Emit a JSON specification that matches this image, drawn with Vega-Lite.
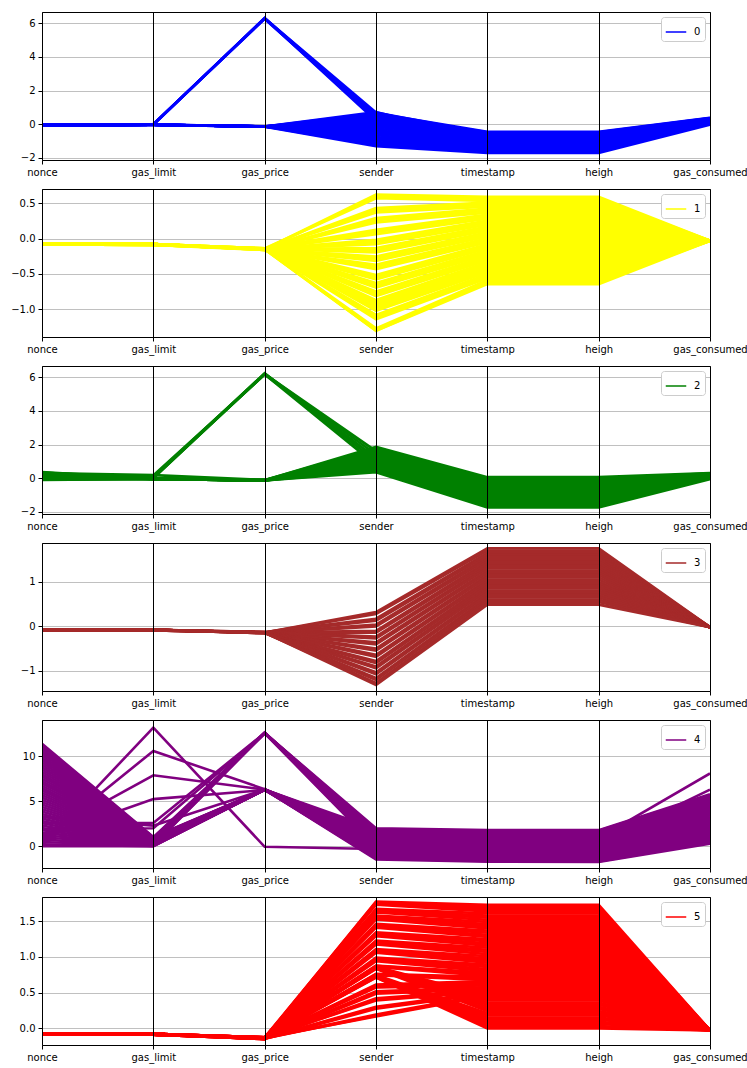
{
  "$schema": "https://vega.github.io/schema/vega-lite/v6.json",
  "padding": {"left": 10, "top": 11, "right": 5, "bottom": 5},
  "bounds": "flush",
  "spacing": 29,
  "config": {
    "view": {"stroke": "#000000", "strokeWidth": 1},
    "font": "DejaVu Sans",
    "axis": {"labelFont": "DejaVu Sans", "labelFontSize": 10, "labelColor": "#000000", "tickColor": "#000000", "domain": false, "title": null, "tickSize": 4, "labelPadding": 3},
    "legend": {"orient": "top-right", "title": null, "symbolType": "stroke", "symbolStrokeWidth": 1.5, "symbolSize": 420, "labelFont": "DejaVu Sans", "labelFontSize": 10, "labelColor": "#000000", "padding": 4, "strokeColor": "#cccccc", "fillColor": "#ffffff", "cornerRadius": 3, "offset": 5, "labelOffset": 7}
  },
  "data": {"values": [
    {"c":0,"i":1,"a1":-0.05,"a2":-0.03,"a3":-0.13,"a4":0.73,"a5":-0.9,"a6":-0.9,"a7":0.2},
    {"c":0,"i":2,"a1":-0.06,"a2":-0.03,"a3":-0.13,"a4":0.65,"a5":-0.45,"a6":-0.45,"a7":0.38},
    {"c":0,"i":3,"a1":-0.04,"a2":-0.03,"a3":-0.14,"a4":0.55,"a5":-0.48,"a6":-0.48,"a7":0.37},
    {"c":0,"i":4,"a1":-0.05,"a2":-0.02,"a3":-0.13,"a4":0.45,"a5":-0.5,"a6":-0.5,"a7":0.36},
    {"c":0,"i":5,"a1":-0.05,"a2":-0.03,"a3":-0.12,"a4":0.35,"a5":-0.55,"a6":-0.56,"a7":0.34},
    {"c":0,"i":6,"a1":-0.06,"a2":-0.03,"a3":-0.13,"a4":0.25,"a5":-0.62,"a6":-0.62,"a7":0.32},
    {"c":0,"i":7,"a1":-0.05,"a2":-0.04,"a3":-0.14,"a4":0.15,"a5":-0.68,"a6":-0.68,"a7":0.3},
    {"c":0,"i":8,"a1":-0.04,"a2":-0.03,"a3":-0.13,"a4":0.05,"a5":-0.75,"a6":-0.75,"a7":0.28},
    {"c":0,"i":9,"a1":-0.05,"a2":-0.03,"a3":-0.13,"a4":-0.05,"a5":-0.8,"a6":-0.81,"a7":0.26},
    {"c":0,"i":10,"a1":-0.06,"a2":-0.02,"a3":-0.12,"a4":-0.15,"a5":-0.86,"a6":-0.86,"a7":0.24},
    {"c":0,"i":11,"a1":-0.05,"a2":-0.03,"a3":-0.13,"a4":-0.25,"a5":-0.93,"a6":-0.93,"a7":0.22},
    {"c":0,"i":12,"a1":-0.05,"a2":-0.03,"a3":-0.14,"a4":-0.35,"a5":-1.0,"a6":-1.0,"a7":0.2},
    {"c":0,"i":13,"a1":-0.04,"a2":-0.03,"a3":-0.13,"a4":-0.45,"a5":-1.06,"a6":-1.06,"a7":0.18},
    {"c":0,"i":14,"a1":-0.05,"a2":-0.04,"a3":-0.13,"a4":-0.55,"a5":-1.12,"a6":-1.12,"a7":0.16},
    {"c":0,"i":15,"a1":-0.06,"a2":-0.03,"a3":-0.12,"a4":-0.65,"a5":-1.19,"a6":-1.19,"a7":0.14},
    {"c":0,"i":16,"a1":-0.05,"a2":-0.03,"a3":-0.13,"a4":-0.75,"a5":-1.25,"a6":-1.25,"a7":0.12},
    {"c":0,"i":17,"a1":-0.05,"a2":-0.02,"a3":-0.14,"a4":-0.85,"a5":-1.32,"a6":-1.32,"a7":0.1},
    {"c":0,"i":18,"a1":-0.04,"a2":-0.03,"a3":-0.13,"a4":-0.95,"a5":-1.38,"a6":-1.38,"a7":0.08},
    {"c":0,"i":19,"a1":-0.05,"a2":-0.03,"a3":-0.13,"a4":-1.05,"a5":-1.45,"a6":-1.45,"a7":0.06},
    {"c":0,"i":20,"a1":-0.06,"a2":-0.03,"a3":-0.12,"a4":-1.15,"a5":-1.52,"a6":-1.52,"a7":0.04},
    {"c":0,"i":21,"a1":-0.05,"a2":-0.04,"a3":-0.13,"a4":-1.22,"a5":-1.6,"a6":-1.6,"a7":0.02},
    {"c":0,"i":22,"a1":-0.05,"a2":-0.03,"a3":-0.14,"a4":-1.3,"a5":-1.7,"a6":-1.7,"a7":-0.02},
    {"c":0,"i":23,"a1":-0.05,"a2":-0.02,"a3":6.3,"a4":0.7,"a5":-0.55,"a6":-0.55,"a7":0.3},
    {"c":0,"i":24,"a1":-0.05,"a2":0.0,"a3":6.28,"a4":0.6,"a5":-0.7,"a6":-0.7,"a7":0.25},
    {"c":0,"i":25,"a1":-0.04,"a2":-0.01,"a3":6.32,"a4":0.5,"a5":-0.85,"a6":-0.85,"a7":0.2},
    {"c":0,"i":26,"a1":-0.06,"a2":0.01,"a3":6.26,"a4":0.4,"a5":-1.0,"a6":-1.0,"a7":0.15},
    {"c":0,"i":27,"a1":-0.05,"a2":0.0,"a3":6.3,"a4":0.3,"a5":-1.2,"a6":-1.2,"a7":0.1},
    {"c":0,"i":28,"a1":-0.05,"a2":-0.02,"a3":6.29,"a4":0.2,"a5":-1.4,"a6":-1.4,"a7":0.05},

    {"c":1,"i":1,"a1":-0.08,"a2":-0.08,"a3":-0.15,"a4":0.62,"a5":0.59,"a6":0.59,"a7":-0.03},
    {"c":1,"i":2,"a1":-0.08,"a2":-0.08,"a3":-0.15,"a4":0.595,"a5":0.562,"a6":0.562,"a7":-0.03},
    {"c":1,"i":3,"a1":-0.08,"a2":-0.08,"a3":-0.14,"a4":0.57,"a5":0.534,"a6":0.534,"a7":-0.03},
    {"c":1,"i":4,"a1":-0.08,"a2":-0.08,"a3":-0.15,"a4":0.43,"a5":0.506,"a6":0.506,"a7":-0.03},
    {"c":1,"i":5,"a1":-0.08,"a2":-0.09,"a3":-0.15,"a4":0.4,"a5":0.478,"a6":0.478,"a7":-0.03},
    {"c":1,"i":6,"a1":-0.08,"a2":-0.08,"a3":-0.15,"a4":0.37,"a5":0.45,"a6":0.45,"a7":-0.03},
    {"c":1,"i":7,"a1":-0.08,"a2":-0.08,"a3":-0.16,"a4":0.29,"a5":0.422,"a6":0.422,"a7":-0.03},
    {"c":1,"i":8,"a1":-0.08,"a2":-0.08,"a3":-0.15,"a4":0.26,"a5":0.394,"a6":0.394,"a7":-0.03},
    {"c":1,"i":9,"a1":-0.08,"a2":-0.08,"a3":-0.15,"a4":0.23,"a5":0.366,"a6":0.366,"a7":-0.03},
    {"c":1,"i":10,"a1":-0.08,"a2":-0.09,"a3":-0.14,"a4":0.124,"a5":0.338,"a6":0.338,"a7":-0.03},
    {"c":1,"i":11,"a1":-0.08,"a2":-0.08,"a3":-0.15,"a4":0.094,"a5":0.31,"a6":0.31,"a7":-0.03},
    {"c":1,"i":12,"a1":-0.08,"a2":-0.08,"a3":-0.15,"a4":0.064,"a5":0.282,"a6":0.282,"a7":-0.03},
    {"c":1,"i":13,"a1":-0.08,"a2":-0.08,"a3":-0.15,"a4":-0.018,"a5":0.254,"a6":0.254,"a7":-0.03},
    {"c":1,"i":14,"a1":-0.08,"a2":-0.08,"a3":-0.16,"a4":-0.048,"a5":0.226,"a6":0.226,"a7":-0.03},
    {"c":1,"i":15,"a1":-0.08,"a2":-0.08,"a3":-0.15,"a4":-0.078,"a5":0.198,"a6":0.198,"a7":-0.03},
    {"c":1,"i":16,"a1":-0.08,"a2":-0.09,"a3":-0.15,"a4":-0.136,"a5":0.17,"a6":0.17,"a7":-0.03},
    {"c":1,"i":17,"a1":-0.08,"a2":-0.08,"a3":-0.15,"a4":-0.166,"a5":0.142,"a6":0.142,"a7":-0.03},
    {"c":1,"i":18,"a1":-0.08,"a2":-0.08,"a3":-0.14,"a4":-0.196,"a5":0.114,"a6":0.114,"a7":-0.03},
    {"c":1,"i":19,"a1":-0.08,"a2":-0.08,"a3":-0.15,"a4":-0.254,"a5":0.086,"a6":0.086,"a7":-0.03},
    {"c":1,"i":20,"a1":-0.08,"a2":-0.08,"a3":-0.15,"a4":-0.284,"a5":0.058,"a6":0.058,"a7":-0.03},
    {"c":1,"i":21,"a1":-0.08,"a2":-0.08,"a3":-0.15,"a4":-0.314,"a5":0.03,"a6":0.03,"a7":-0.03},
    {"c":1,"i":22,"a1":-0.08,"a2":-0.09,"a3":-0.16,"a4":-0.37,"a5":0.002,"a6":0.002,"a7":-0.03},
    {"c":1,"i":23,"a1":-0.08,"a2":-0.08,"a3":-0.15,"a4":-0.4,"a5":-0.026,"a6":-0.026,"a7":-0.03},
    {"c":1,"i":24,"a1":-0.08,"a2":-0.08,"a3":-0.15,"a4":-0.43,"a5":-0.054,"a6":-0.054,"a7":-0.03},
    {"c":1,"i":25,"a1":-0.08,"a2":-0.08,"a3":-0.14,"a4":-0.515,"a5":-0.082,"a6":-0.082,"a7":-0.03},
    {"c":1,"i":26,"a1":-0.08,"a2":-0.08,"a3":-0.15,"a4":-0.545,"a5":-0.11,"a6":-0.11,"a7":-0.03},
    {"c":1,"i":27,"a1":-0.08,"a2":-0.08,"a3":-0.15,"a4":-0.575,"a5":-0.138,"a6":-0.138,"a7":-0.03},
    {"c":1,"i":28,"a1":-0.08,"a2":-0.09,"a3":-0.15,"a4":-0.63,"a5":-0.166,"a6":-0.166,"a7":-0.03},
    {"c":1,"i":29,"a1":-0.08,"a2":-0.08,"a3":-0.16,"a4":-0.66,"a5":-0.194,"a6":-0.194,"a7":-0.03},
    {"c":1,"i":30,"a1":-0.08,"a2":-0.08,"a3":-0.15,"a4":-0.69,"a5":-0.222,"a6":-0.222,"a7":-0.03},
    {"c":1,"i":31,"a1":-0.08,"a2":-0.08,"a3":-0.15,"a4":-0.75,"a5":-0.25,"a6":-0.25,"a7":-0.03},
    {"c":1,"i":32,"a1":-0.08,"a2":-0.08,"a3":-0.14,"a4":-0.78,"a5":-0.278,"a6":-0.278,"a7":-0.03},
    {"c":1,"i":33,"a1":-0.08,"a2":-0.08,"a3":-0.15,"a4":-0.81,"a5":-0.306,"a6":-0.306,"a7":-0.03},
    {"c":1,"i":34,"a1":-0.08,"a2":-0.09,"a3":-0.15,"a4":-0.87,"a5":-0.334,"a6":-0.334,"a7":-0.03},
    {"c":1,"i":35,"a1":-0.08,"a2":-0.08,"a3":-0.15,"a4":-0.9,"a5":-0.362,"a6":-0.362,"a7":-0.03},
    {"c":1,"i":36,"a1":-0.08,"a2":-0.08,"a3":-0.16,"a4":-0.93,"a5":-0.39,"a6":-0.39,"a7":-0.03},
    {"c":1,"i":37,"a1":-0.08,"a2":-0.08,"a3":-0.15,"a4":-0.96,"a5":-0.418,"a6":-0.418,"a7":-0.03},
    {"c":1,"i":38,"a1":-0.08,"a2":-0.08,"a3":-0.15,"a4":-0.99,"a5":-0.446,"a6":-0.446,"a7":-0.03},
    {"c":1,"i":39,"a1":-0.08,"a2":-0.08,"a3":-0.14,"a4":-1.02,"a5":-0.474,"a6":-0.474,"a7":-0.03},
    {"c":1,"i":40,"a1":-0.08,"a2":-0.09,"a3":-0.15,"a4":-1.08,"a5":-0.502,"a6":-0.502,"a7":-0.03},
    {"c":1,"i":41,"a1":-0.08,"a2":-0.08,"a3":-0.15,"a4":-1.11,"a5":-0.53,"a6":-0.53,"a7":-0.03},
    {"c":1,"i":42,"a1":-0.08,"a2":-0.08,"a3":-0.15,"a4":-1.14,"a5":-0.558,"a6":-0.558,"a7":-0.03},
    {"c":1,"i":43,"a1":-0.08,"a2":-0.08,"a3":-0.15,"a4":-1.27,"a5":-0.586,"a6":-0.586,"a7":-0.03},
    {"c":1,"i":44,"a1":-0.08,"a2":-0.08,"a3":-0.15,"a4":-1.3,"a5":-0.614,"a6":-0.614,"a7":-0.03},
    {"c":1,"i":45,"a1":-0.08,"a2":-0.08,"a3":-0.15,"a4":-1.3,"a5":-0.642,"a6":-0.642,"a7":-0.03},

    {"c":2,"i":1,"a1":0.35,"a2":-0.05,"a3":-0.13,"a4":1.85,"a5":0.05,"a6":0.05,"a7":0.3},
    {"c":2,"i":2,"a1":0.3,"a2":0.18,"a3":-0.12,"a4":1.75,"a5":-0.07,"a6":-0.07,"a7":0.28},
    {"c":2,"i":3,"a1":0.25,"a2":-0.05,"a3":-0.14,"a4":1.65,"a5":-0.19,"a6":-0.19,"a7":0.26},
    {"c":2,"i":4,"a1":0.2,"a2":-0.04,"a3":-0.13,"a4":1.55,"a5":-0.31,"a6":-0.31,"a7":0.24},
    {"c":2,"i":5,"a1":0.15,"a2":-0.05,"a3":-0.14,"a4":1.45,"a5":-0.43,"a6":-0.43,"a7":0.22},
    {"c":2,"i":6,"a1":0.1,"a2":-0.05,"a3":-0.13,"a4":1.35,"a5":-0.55,"a6":-0.55,"a7":0.2},
    {"c":2,"i":7,"a1":0.05,"a2":-0.05,"a3":-0.14,"a4":1.25,"a5":-0.67,"a6":-0.67,"a7":0.18},
    {"c":2,"i":8,"a1":0.0,"a2":-0.05,"a3":-0.13,"a4":1.15,"a5":-0.79,"a6":-0.79,"a7":0.16},
    {"c":2,"i":9,"a1":-0.05,"a2":-0.05,"a3":-0.14,"a4":1.05,"a5":-0.91,"a6":-0.91,"a7":0.14},
    {"c":2,"i":10,"a1":-0.08,"a2":-0.05,"a3":-0.13,"a4":0.95,"a5":-1.03,"a6":-1.03,"a7":0.12},
    {"c":2,"i":11,"a1":0.32,"a2":-0.05,"a3":-0.14,"a4":0.85,"a5":-1.15,"a6":-1.15,"a7":0.1},
    {"c":2,"i":12,"a1":0.12,"a2":-0.05,"a3":-0.13,"a4":0.75,"a5":-1.27,"a6":-1.27,"a7":0.08},
    {"c":2,"i":13,"a1":0.02,"a2":-0.05,"a3":-0.14,"a4":0.65,"a5":-1.39,"a6":-1.39,"a7":0.06},
    {"c":2,"i":14,"a1":-0.1,"a2":-0.05,"a3":-0.13,"a4":0.55,"a5":-1.51,"a6":-1.51,"a7":0.04},
    {"c":2,"i":15,"a1":0.22,"a2":-0.05,"a3":-0.14,"a4":0.45,"a5":-1.63,"a6":-1.63,"a7":0.02},
    {"c":2,"i":16,"a1":-0.06,"a2":-0.05,"a3":-0.13,"a4":0.35,"a5":-1.75,"a6":-1.75,"a7":-0.05},
    {"c":2,"i":17,"a1":0.1,"a2":0.02,"a3":6.2,"a4":1.6,"a5":-0.3,"a6":-0.3,"a7":0.25},
    {"c":2,"i":18,"a1":0.05,"a2":0.1,"a3":6.22,"a4":1.4,"a5":-0.6,"a6":-0.6,"a7":0.2},
    {"c":2,"i":19,"a1":0.0,"a2":0.15,"a3":6.18,"a4":1.2,"a5":-0.9,"a6":-0.9,"a7":0.15},
    {"c":2,"i":20,"a1":0.08,"a2":0.0,"a3":6.24,"a4":1.0,"a5":-1.2,"a6":-1.2,"a7":0.1},
    {"c":2,"i":21,"a1":0.15,"a2":0.05,"a3":6.2,"a4":0.8,"a5":-1.5,"a6":-1.5,"a7":0.05},

    {"c":3,"i":1,"a1":-0.08,"a2":-0.08,"a3":-0.14,"a4":0.32,"a5":1.75,"a6":1.75,"a7":-0.02},
    {"c":3,"i":2,"a1":-0.08,"a2":-0.08,"a3":-0.14,"a4":0.28,"a5":1.7,"a6":1.7,"a7":-0.02},
    {"c":3,"i":3,"a1":-0.08,"a2":-0.09,"a3":-0.13,"a4":0.17,"a5":1.65,"a6":1.65,"a7":-0.02},
    {"c":3,"i":4,"a1":-0.08,"a2":-0.08,"a3":-0.14,"a4":0.13,"a5":1.6,"a6":1.6,"a7":-0.02},
    {"c":3,"i":5,"a1":-0.08,"a2":-0.08,"a3":-0.14,"a4":0.04,"a5":1.55,"a6":1.55,"a7":-0.02},
    {"c":3,"i":6,"a1":-0.08,"a2":-0.08,"a3":-0.15,"a4":0.0,"a5":1.5,"a6":1.5,"a7":-0.02},
    {"c":3,"i":7,"a1":-0.08,"a2":-0.09,"a3":-0.14,"a4":-0.1,"a5":1.45,"a6":1.45,"a7":-0.02},
    {"c":3,"i":8,"a1":-0.08,"a2":-0.08,"a3":-0.14,"a4":-0.14,"a5":1.4,"a6":1.4,"a7":-0.02},
    {"c":3,"i":9,"a1":-0.08,"a2":-0.08,"a3":-0.13,"a4":-0.23,"a5":1.35,"a6":1.35,"a7":-0.02},
    {"c":3,"i":10,"a1":-0.08,"a2":-0.08,"a3":-0.14,"a4":-0.27,"a5":1.3,"a6":1.3,"a7":-0.02},
    {"c":3,"i":11,"a1":-0.08,"a2":-0.09,"a3":-0.14,"a4":-0.36,"a5":1.25,"a6":1.25,"a7":-0.02},
    {"c":3,"i":12,"a1":-0.08,"a2":-0.08,"a3":-0.15,"a4":-0.4,"a5":1.2,"a6":1.2,"a7":-0.02},
    {"c":3,"i":13,"a1":-0.08,"a2":-0.08,"a3":-0.14,"a4":-0.5,"a5":1.15,"a6":1.15,"a7":-0.02},
    {"c":3,"i":14,"a1":-0.08,"a2":-0.08,"a3":-0.14,"a4":-0.54,"a5":1.1,"a6":1.1,"a7":-0.02},
    {"c":3,"i":15,"a1":-0.08,"a2":-0.09,"a3":-0.13,"a4":-0.64,"a5":1.05,"a6":1.05,"a7":-0.02},
    {"c":3,"i":16,"a1":-0.08,"a2":-0.08,"a3":-0.14,"a4":-0.68,"a5":1.0,"a6":1.0,"a7":-0.02},
    {"c":3,"i":17,"a1":-0.08,"a2":-0.08,"a3":-0.14,"a4":-0.78,"a5":0.95,"a6":0.95,"a7":-0.02},
    {"c":3,"i":18,"a1":-0.08,"a2":-0.08,"a3":-0.15,"a4":-0.82,"a5":0.9,"a6":0.9,"a7":-0.02},
    {"c":3,"i":19,"a1":-0.08,"a2":-0.09,"a3":-0.14,"a4":-0.9,"a5":0.85,"a6":0.85,"a7":-0.02},
    {"c":3,"i":20,"a1":-0.08,"a2":-0.08,"a3":-0.14,"a4":-0.94,"a5":0.8,"a6":0.8,"a7":-0.02},
    {"c":3,"i":21,"a1":-0.08,"a2":-0.08,"a3":-0.13,"a4":-1.03,"a5":0.75,"a6":0.75,"a7":-0.02},
    {"c":3,"i":22,"a1":-0.08,"a2":-0.08,"a3":-0.14,"a4":-1.07,"a5":0.7,"a6":0.7,"a7":-0.02},
    {"c":3,"i":23,"a1":-0.08,"a2":-0.09,"a3":-0.14,"a4":-1.16,"a5":0.65,"a6":0.65,"a7":-0.02},
    {"c":3,"i":24,"a1":-0.08,"a2":-0.08,"a3":-0.15,"a4":-1.2,"a5":0.6,"a6":0.6,"a7":-0.02},
    {"c":3,"i":25,"a1":-0.08,"a2":-0.08,"a3":-0.14,"a4":-1.27,"a5":0.55,"a6":0.55,"a7":-0.02},
    {"c":3,"i":26,"a1":-0.08,"a2":-0.08,"a3":-0.14,"a4":-1.31,"a5":0.49,"a6":0.49,"a7":-0.02},

    {"c":4,"i":1,"a1":11.4,"a2":1.03,"a3":6.3,"a4":1.92,"a5":1.73,"a6":1.72,"a7":5.68},
    {"c":4,"i":2,"a1":11.14,"a2":1.0,"a3":12.6,"a4":2.0,"a5":1.81,"a6":1.8,"a7":5.8},
    {"c":4,"i":3,"a1":10.88,"a2":0.98,"a3":6.28,"a4":1.76,"a5":1.57,"a6":1.56,"a7":5.43},
    {"c":4,"i":4,"a1":10.62,"a2":0.96,"a3":6.32,"a4":1.61,"a5":1.41,"a6":1.4,"a7":5.18},
    {"c":4,"i":5,"a1":10.36,"a2":0.93,"a3":12.58,"a4":1.84,"a5":1.65,"a6":1.64,"a7":5.55},
    {"c":4,"i":6,"a1":10.1,"a2":0.91,"a3":6.3,"a4":1.45,"a5":1.25,"a6":1.24,"a7":4.93},
    {"c":4,"i":7,"a1":9.84,"a2":0.89,"a3":6.27,"a4":1.29,"a5":1.09,"a6":1.07,"a7":4.68},
    {"c":4,"i":8,"a1":9.58,"a2":0.86,"a3":12.62,"a4":1.69,"a5":1.49,"a6":1.48,"a7":5.3},
    {"c":4,"i":9,"a1":9.32,"a2":0.84,"a3":6.33,"a4":1.14,"a5":0.93,"a6":0.91,"a7":4.43},
    {"c":4,"i":10,"a1":9.06,"a2":0.82,"a3":6.3,"a4":0.98,"a5":0.77,"a6":0.75,"a7":4.18},
    {"c":4,"i":11,"a1":8.8,"a2":0.79,"a3":12.6,"a4":1.53,"a5":1.33,"a6":1.32,"a7":5.05},
    {"c":4,"i":12,"a1":8.54,"a2":0.77,"a3":6.29,"a4":0.82,"a5":0.61,"a6":0.59,"a7":3.93},
    {"c":4,"i":13,"a1":8.28,"a2":0.75,"a3":6.31,"a4":0.67,"a5":0.45,"a6":0.43,"a7":3.68},
    {"c":4,"i":14,"a1":8.02,"a2":0.72,"a3":12.56,"a4":1.37,"a5":1.17,"a6":1.15,"a7":4.8},
    {"c":4,"i":15,"a1":7.76,"a2":0.7,"a3":6.3,"a4":0.51,"a5":0.29,"a6":0.27,"a7":3.43},
    {"c":4,"i":16,"a1":7.5,"a2":0.68,"a3":6.26,"a4":0.35,"a5":0.13,"a6":0.11,"a7":3.18},
    {"c":4,"i":17,"a1":7.24,"a2":0.65,"a3":12.64,"a4":1.22,"a5":1.01,"a6":0.99,"a7":4.55},
    {"c":4,"i":18,"a1":6.98,"a2":0.63,"a3":6.34,"a4":0.2,"a5":-0.03,"a6":-0.06,"a7":2.93},
    {"c":4,"i":19,"a1":6.72,"a2":0.6,"a3":6.3,"a4":0.04,"a5":-0.19,"a6":-0.22,"a7":2.68},
    {"c":4,"i":20,"a1":6.46,"a2":0.58,"a3":12.6,"a4":1.06,"a5":0.85,"a6":0.83,"a7":4.3},
    {"c":4,"i":21,"a1":6.2,"a2":0.56,"a3":6.28,"a4":-0.12,"a5":-0.35,"a6":-0.38,"a7":2.43},
    {"c":4,"i":22,"a1":5.94,"a2":0.53,"a3":6.32,"a4":-0.2,"a5":-0.43,"a6":-0.46,"a7":2.3},
    {"c":4,"i":23,"a1":5.68,"a2":0.51,"a3":12.57,"a4":0.9,"a5":0.69,"a6":0.67,"a7":4.05},
    {"c":4,"i":24,"a1":5.42,"a2":0.49,"a3":6.3,"a4":-0.27,"a5":-0.51,"a6":-0.54,"a7":2.18},
    {"c":4,"i":25,"a1":5.16,"a2":0.46,"a3":6.27,"a4":-0.35,"a5":-0.59,"a6":-0.62,"a7":2.05},
    {"c":4,"i":26,"a1":4.9,"a2":0.44,"a3":12.63,"a4":0.75,"a5":0.53,"a6":0.51,"a7":3.8},
    {"c":4,"i":27,"a1":4.64,"a2":0.42,"a3":6.33,"a4":-0.43,"a5":-0.67,"a6":-0.7,"a7":1.93},
    {"c":4,"i":28,"a1":4.38,"a2":0.39,"a3":6.3,"a4":-0.51,"a5":-0.75,"a6":-0.78,"a7":1.8},
    {"c":4,"i":29,"a1":4.12,"a2":0.37,"a3":12.6,"a4":0.59,"a5":0.37,"a6":0.35,"a7":3.55},
    {"c":4,"i":30,"a1":3.86,"a2":0.35,"a3":6.29,"a4":-0.59,"a5":-0.83,"a6":-0.86,"a7":1.68},
    {"c":4,"i":31,"a1":3.6,"a2":0.32,"a3":6.31,"a4":-0.67,"a5":-0.91,"a6":-0.94,"a7":1.55},
    {"c":4,"i":32,"a1":3.34,"a2":0.3,"a3":12.58,"a4":0.43,"a5":0.21,"a6":0.19,"a7":3.3},
    {"c":4,"i":33,"a1":3.08,"a2":0.28,"a3":6.3,"a4":-0.74,"a5":-0.99,"a6":-1.02,"a7":1.43},
    {"c":4,"i":34,"a1":2.82,"a2":0.25,"a3":6.26,"a4":-0.82,"a5":-1.07,"a6":-1.11,"a7":1.3},
    {"c":4,"i":35,"a1":2.56,"a2":0.23,"a3":12.62,"a4":0.28,"a5":0.05,"a6":0.02,"a7":3.05},
    {"c":4,"i":36,"a1":2.3,"a2":0.21,"a3":6.34,"a4":-0.9,"a5":-1.15,"a6":-1.19,"a7":1.18},
    {"c":4,"i":37,"a1":2.04,"a2":0.18,"a3":6.3,"a4":-0.98,"a5":-1.23,"a6":-1.27,"a7":1.05},
    {"c":4,"i":38,"a1":1.78,"a2":0.16,"a3":12.6,"a4":0.12,"a5":-0.11,"a6":-0.14,"a7":2.8},
    {"c":4,"i":39,"a1":1.52,"a2":0.14,"a3":6.28,"a4":-1.06,"a5":-1.31,"a6":-1.35,"a7":0.93},
    {"c":4,"i":40,"a1":1.26,"a2":0.11,"a3":6.32,"a4":-1.14,"a5":-1.39,"a6":-1.43,"a7":0.8},
    {"c":4,"i":41,"a1":1.0,"a2":0.09,"a3":12.57,"a4":-0.04,"a5":-0.27,"a6":-0.3,"a7":2.55},
    {"c":4,"i":42,"a1":0.74,"a2":0.07,"a3":6.3,"a4":-1.21,"a5":-1.47,"a6":-1.51,"a7":0.68},
    {"c":4,"i":43,"a1":0.48,"a2":0.04,"a3":6.27,"a4":-1.29,"a5":-1.55,"a6":-1.59,"a7":0.55},
    {"c":4,"i":44,"a1":0.22,"a2":0.02,"a3":6.33,"a4":-1.37,"a5":-1.63,"a6":-1.67,"a7":0.43},
    {"c":4,"i":45,"a1":0.0,"a2":0.0,"a3":6.3,"a4":-1.45,"a5":-1.71,"a6":-1.75,"a7":0.3},
    {"c":4,"i":46,"a1":0.1,"a2":13.2,"a3":-0.05,"a4":-0.3,"a5":-0.55,"a6":-0.55,"a7":2.4},
    {"c":4,"i":47,"a1":0.6,"a2":10.6,"a3":6.35,"a4":1.1,"a5":0.9,"a6":0.9,"a7":8.1},
    {"c":4,"i":48,"a1":1.1,"a2":7.9,"a3":6.3,"a4":0.4,"a5":0.3,"a6":0.3,"a7":6.3},
    {"c":4,"i":49,"a1":0.9,"a2":5.25,"a3":6.25,"a4":-0.6,"a5":-0.8,"a6":-0.8,"a7":4.0},
    {"c":4,"i":50,"a1":2.6,"a2":2.6,"a3":12.6,"a4":1.6,"a5":1.4,"a6":1.4,"a7":5.0},
    {"c":4,"i":51,"a1":3.3,"a2":2.3,"a3":6.3,"a4":0.0,"a5":-0.2,"a6":-0.2,"a7":3.0},
    {"c":4,"i":52,"a1":1.9,"a2":2.0,"a3":12.6,"a4":0.9,"a5":0.7,"a6":0.7,"a7":4.5},

    {"c":5,"i":1,"a1":-0.08,"a2":-0.08,"a3":-0.14,"a4":1.775,"a5":1.73,"a6":1.73,"a7":-0.03},
    {"c":5,"i":2,"a1":-0.08,"a2":-0.09,"a3":-0.13,"a4":1.765,"a5":1.7,"a6":1.7,"a7":-0.03},
    {"c":5,"i":3,"a1":-0.08,"a2":-0.08,"a3":-0.14,"a4":1.75,"a5":1.67,"a6":1.67,"a7":-0.03},
    {"c":5,"i":4,"a1":-0.08,"a2":-0.08,"a3":-0.15,"a4":1.735,"a5":1.64,"a6":1.64,"a7":-0.03},
    {"c":5,"i":5,"a1":-0.08,"a2":-0.08,"a3":-0.14,"a4":1.673,"a5":1.61,"a6":1.61,"a7":-0.03},
    {"c":5,"i":6,"a1":-0.08,"a2":-0.09,"a3":-0.14,"a4":1.656,"a5":1.58,"a6":1.58,"a7":-0.03},
    {"c":5,"i":7,"a1":-0.08,"a2":-0.08,"a3":-0.13,"a4":1.64,"a5":1.55,"a6":1.55,"a7":-0.03},
    {"c":5,"i":8,"a1":-0.08,"a2":-0.08,"a3":-0.14,"a4":1.623,"a5":1.52,"a6":1.52,"a7":-0.03},
    {"c":5,"i":9,"a1":-0.08,"a2":-0.08,"a3":-0.14,"a4":1.578,"a5":1.49,"a6":1.49,"a7":-0.03},
    {"c":5,"i":10,"a1":-0.08,"a2":-0.09,"a3":-0.15,"a4":1.561,"a5":1.46,"a6":1.46,"a7":-0.03},
    {"c":5,"i":11,"a1":-0.08,"a2":-0.08,"a3":-0.14,"a4":1.545,"a5":1.43,"a6":1.43,"a7":-0.03},
    {"c":5,"i":12,"a1":-0.08,"a2":-0.08,"a3":-0.14,"a4":1.528,"a5":1.4,"a6":1.4,"a7":-0.03},
    {"c":5,"i":13,"a1":-0.08,"a2":-0.08,"a3":-0.13,"a4":1.461,"a5":1.37,"a6":1.37,"a7":-0.03},
    {"c":5,"i":14,"a1":-0.08,"a2":-0.09,"a3":-0.14,"a4":1.444,"a5":1.34,"a6":1.34,"a7":-0.03},
    {"c":5,"i":15,"a1":-0.08,"a2":-0.08,"a3":-0.14,"a4":1.428,"a5":1.31,"a6":1.31,"a7":-0.03},
    {"c":5,"i":16,"a1":-0.08,"a2":-0.08,"a3":-0.15,"a4":1.411,"a5":1.28,"a6":1.28,"a7":-0.03},
    {"c":5,"i":17,"a1":-0.08,"a2":-0.08,"a3":-0.14,"a4":1.343,"a5":1.25,"a6":1.25,"a7":-0.03},
    {"c":5,"i":18,"a1":-0.08,"a2":-0.09,"a3":-0.14,"a4":1.326,"a5":1.22,"a6":1.22,"a7":-0.03},
    {"c":5,"i":19,"a1":-0.08,"a2":-0.08,"a3":-0.13,"a4":1.31,"a5":1.19,"a6":1.19,"a7":-0.03},
    {"c":5,"i":20,"a1":-0.08,"a2":-0.08,"a3":-0.14,"a4":1.293,"a5":1.16,"a6":1.16,"a7":-0.03},
    {"c":5,"i":21,"a1":-0.08,"a2":-0.08,"a3":-0.14,"a4":1.226,"a5":1.13,"a6":1.13,"a7":-0.03},
    {"c":5,"i":22,"a1":-0.08,"a2":-0.09,"a3":-0.15,"a4":1.209,"a5":1.1,"a6":1.1,"a7":-0.03},
    {"c":5,"i":23,"a1":-0.08,"a2":-0.08,"a3":-0.14,"a4":1.193,"a5":1.07,"a6":1.07,"a7":-0.03},
    {"c":5,"i":24,"a1":-0.08,"a2":-0.08,"a3":-0.14,"a4":1.176,"a5":1.04,"a6":1.04,"a7":-0.03},
    {"c":5,"i":25,"a1":-0.08,"a2":-0.08,"a3":-0.13,"a4":1.109,"a5":1.01,"a6":1.01,"a7":-0.03},
    {"c":5,"i":26,"a1":-0.08,"a2":-0.09,"a3":-0.14,"a4":1.092,"a5":0.98,"a6":0.98,"a7":-0.03},
    {"c":5,"i":27,"a1":-0.08,"a2":-0.08,"a3":-0.14,"a4":1.076,"a5":0.95,"a6":0.95,"a7":-0.03},
    {"c":5,"i":28,"a1":-0.08,"a2":-0.08,"a3":-0.15,"a4":1.059,"a5":0.92,"a6":0.92,"a7":-0.03},
    {"c":5,"i":29,"a1":-0.08,"a2":-0.08,"a3":-0.14,"a4":0.991,"a5":0.89,"a6":0.89,"a7":-0.03},
    {"c":5,"i":30,"a1":-0.08,"a2":-0.09,"a3":-0.14,"a4":0.974,"a5":0.86,"a6":0.86,"a7":-0.03},
    {"c":5,"i":31,"a1":-0.08,"a2":-0.08,"a3":-0.13,"a4":0.958,"a5":0.83,"a6":0.83,"a7":-0.03},
    {"c":5,"i":32,"a1":-0.08,"a2":-0.08,"a3":-0.14,"a4":0.941,"a5":0.8,"a6":0.8,"a7":-0.03},
    {"c":5,"i":33,"a1":-0.08,"a2":-0.08,"a3":-0.14,"a4":0.878,"a5":0.78,"a6":0.78,"a7":-0.03},
    {"c":5,"i":34,"a1":-0.08,"a2":-0.09,"a3":-0.15,"a4":0.872,"a5":0.765,"a6":0.765,"a7":-0.03},
    {"c":5,"i":35,"a1":-0.08,"a2":-0.08,"a3":-0.14,"a4":0.866,"a5":0.75,"a6":0.75,"a7":-0.03},
    {"c":5,"i":36,"a1":-0.08,"a2":-0.08,"a3":-0.14,"a4":0.86,"a5":0.735,"a6":0.735,"a7":-0.03},
    {"c":5,"i":37,"a1":-0.08,"a2":-0.08,"a3":-0.13,"a4":0.862,"a5":0.45,"a6":0.45,"a7":-0.03},
    {"c":5,"i":38,"a1":-0.08,"a2":-0.09,"a3":-0.14,"a4":0.858,"a5":0.42,"a6":0.42,"a7":-0.03},
    {"c":5,"i":39,"a1":-0.08,"a2":-0.08,"a3":-0.14,"a4":0.854,"a5":0.39,"a6":0.39,"a7":-0.03},
    {"c":5,"i":40,"a1":-0.08,"a2":-0.08,"a3":-0.15,"a4":0.85,"a5":0.36,"a6":0.36,"a7":-0.03},
    {"c":5,"i":41,"a1":-0.08,"a2":-0.08,"a3":-0.14,"a4":0.846,"a5":0.33,"a6":0.33,"a7":-0.03},
    {"c":5,"i":42,"a1":-0.08,"a2":-0.09,"a3":-0.14,"a4":0.842,"a5":0.3,"a6":0.3,"a7":-0.03},
    {"c":5,"i":43,"a1":-0.08,"a2":-0.08,"a3":-0.13,"a4":0.838,"a5":0.27,"a6":0.27,"a7":-0.03},
    {"c":5,"i":44,"a1":-0.08,"a2":-0.08,"a3":-0.14,"a4":0.834,"a5":0.24,"a6":0.24,"a7":-0.03},
    {"c":5,"i":45,"a1":-0.08,"a2":-0.08,"a3":-0.14,"a4":0.762,"a5":0.72,"a6":0.72,"a7":-0.03},
    {"c":5,"i":46,"a1":-0.08,"a2":-0.09,"a3":-0.15,"a4":0.756,"a5":0.705,"a6":0.705,"a7":-0.03},
    {"c":5,"i":47,"a1":-0.08,"a2":-0.08,"a3":-0.14,"a4":0.75,"a5":0.69,"a6":0.69,"a7":-0.03},
    {"c":5,"i":48,"a1":-0.08,"a2":-0.08,"a3":-0.14,"a4":0.744,"a5":0.675,"a6":0.675,"a7":-0.03},
    {"c":5,"i":49,"a1":-0.08,"a2":-0.08,"a3":-0.13,"a4":0.745,"a5":0.21,"a6":0.21,"a7":-0.03},
    {"c":5,"i":50,"a1":-0.08,"a2":-0.09,"a3":-0.14,"a4":0.74,"a5":0.18,"a6":0.18,"a7":-0.03},
    {"c":5,"i":51,"a1":-0.08,"a2":-0.08,"a3":-0.14,"a4":0.735,"a5":0.15,"a6":0.15,"a7":-0.03},
    {"c":5,"i":52,"a1":-0.08,"a2":-0.08,"a3":-0.15,"a4":0.73,"a5":0.12,"a6":0.12,"a7":-0.03},
    {"c":5,"i":53,"a1":-0.08,"a2":-0.08,"a3":-0.14,"a4":0.725,"a5":0.09,"a6":0.09,"a7":-0.03},
    {"c":5,"i":54,"a1":-0.08,"a2":-0.09,"a3":-0.14,"a4":0.72,"a5":0.06,"a6":0.06,"a7":-0.03},
    {"c":5,"i":55,"a1":-0.08,"a2":-0.08,"a3":-0.13,"a4":0.715,"a5":0.03,"a6":0.03,"a7":-0.03},
    {"c":5,"i":56,"a1":-0.08,"a2":-0.08,"a3":-0.14,"a4":0.71,"a5":0.0,"a6":0.0,"a7":-0.03},
    {"c":5,"i":57,"a1":-0.08,"a2":-0.08,"a3":-0.14,"a4":0.612,"a5":0.66,"a6":0.66,"a7":-0.03},
    {"c":5,"i":58,"a1":-0.08,"a2":-0.09,"a3":-0.15,"a4":0.602,"a5":0.645,"a6":0.645,"a7":-0.03},
    {"c":5,"i":59,"a1":-0.08,"a2":-0.08,"a3":-0.14,"a4":0.592,"a5":0.63,"a6":0.63,"a7":-0.03},
    {"c":5,"i":60,"a1":-0.08,"a2":-0.08,"a3":-0.14,"a4":0.582,"a5":0.615,"a6":0.615,"a7":-0.03},
    {"c":5,"i":61,"a1":-0.08,"a2":-0.08,"a3":-0.13,"a4":0.572,"a5":0.6,"a6":0.6,"a7":-0.03},
    {"c":5,"i":62,"a1":-0.08,"a2":-0.09,"a3":-0.14,"a4":0.515,"a5":0.575,"a6":0.575,"a7":-0.03},
    {"c":5,"i":63,"a1":-0.08,"a2":-0.08,"a3":-0.14,"a4":0.5,"a5":0.56,"a6":0.56,"a7":-0.03},
    {"c":5,"i":64,"a1":-0.08,"a2":-0.08,"a3":-0.15,"a4":0.485,"a5":0.545,"a6":0.545,"a7":-0.03},
    {"c":5,"i":65,"a1":-0.08,"a2":-0.08,"a3":-0.14,"a4":0.42,"a5":0.535,"a6":0.535,"a7":-0.03},
    {"c":5,"i":66,"a1":-0.08,"a2":-0.09,"a3":-0.14,"a4":0.405,"a5":0.525,"a6":0.525,"a7":-0.03},
    {"c":5,"i":67,"a1":-0.08,"a2":-0.08,"a3":-0.13,"a4":0.39,"a5":0.515,"a6":0.515,"a7":-0.03},
    {"c":5,"i":68,"a1":-0.08,"a2":-0.08,"a3":-0.14,"a4":0.3,"a5":0.505,"a6":0.505,"a7":-0.03},
    {"c":5,"i":69,"a1":-0.08,"a2":-0.08,"a3":-0.14,"a4":0.287,"a5":0.495,"a6":0.495,"a7":-0.03},
    {"c":5,"i":70,"a1":-0.08,"a2":-0.09,"a3":-0.15,"a4":0.274,"a5":0.485,"a6":0.485,"a7":-0.03},
    {"c":5,"i":71,"a1":-0.08,"a2":-0.08,"a3":-0.14,"a4":0.19,"a5":0.475,"a6":0.475,"a7":-0.03},
    {"c":5,"i":72,"a1":-0.08,"a2":-0.08,"a3":-0.14,"a4":0.178,"a5":0.465,"a6":0.465,"a7":-0.03},
    {"c":5,"i":73,"a1":-0.08,"a2":-0.08,"a3":-0.13,"a4":0.166,"a5":0.455,"a6":0.455,"a7":-0.03}
  ]},
  "vconcat": [
    {
      "width": 668, "height": 148,
      "transform": [{"filter": "datum.c == 0"}, {"fold": ["a1","a2","a3","a4","a5","a6","a7"], "as": ["k","v"]}],
      "mark": {"type": "line", "strokeWidth": 2.6, "clip": true},
      "encoding": {
        "x": {"field": "k", "type": "nominal", "scale": {"type": "point", "domain": ["a1","a2","a3","a4","a5","a6","a7"], "padding": 0},
              "axis": {"grid": true, "gridColor": "#000000", "gridOpacity": 1, "gridWidth": 1, "zindex": 1, "labelAngle": 0, "labelOverlap": false, "labelFlush": false, "labelBound": false,
                       "labelExpr": "['nonce','gas_limit','gas_price','sender','timestamp','heigh','gas_consumed'][indexof(['a1','a2','a3','a4','a5','a6','a7'], datum.value)]"}},
        "y": {"field": "v", "type": "quantitative", "scale": {"domain": [-2.12, 6.67], "nice": false, "zero": false},
              "axis": {"values": [-2, 0, 2, 4, 6], "format": "d", "grid": true, "gridColor": "#b0b0b0", "gridWidth": 0.8}},
        "color": {"field": "c", "type": "nominal", "scale": {"range": ["#0000ff"]}},
        "detail": {"field": "i", "type": "nominal"}
      }
    },
    {
      "width": 668, "height": 148,
      "transform": [{"filter": "datum.c == 1"}, {"fold": ["a1","a2","a3","a4","a5","a6","a7"], "as": ["k","v"]}],
      "mark": {"type": "line", "strokeWidth": 2.8, "clip": true},
      "encoding": {
        "x": {"field": "k", "type": "nominal", "scale": {"type": "point", "domain": ["a1","a2","a3","a4","a5","a6","a7"], "padding": 0},
              "axis": {"grid": true, "gridColor": "#000000", "gridOpacity": 1, "gridWidth": 1, "zindex": 1, "labelAngle": 0, "labelOverlap": false, "labelFlush": false, "labelBound": false,
                       "labelExpr": "['nonce','gas_limit','gas_price','sender','timestamp','heigh','gas_consumed'][indexof(['a1','a2','a3','a4','a5','a6','a7'], datum.value)]"}},
        "y": {"field": "v", "type": "quantitative", "scale": {"domain": [-1.39, 0.7], "nice": false, "zero": false},
              "axis": {"values": [-1, -0.5, 0, 0.5], "format": ".1f", "grid": true, "gridColor": "#b0b0b0", "gridWidth": 0.8}},
        "color": {"field": "c", "type": "nominal", "scale": {"range": ["#ffff00"]}},
        "detail": {"field": "i", "type": "nominal"}
      }
    },
    {
      "width": 668, "height": 148,
      "transform": [{"filter": "datum.c == 2"}, {"fold": ["a1","a2","a3","a4","a5","a6","a7"], "as": ["k","v"]}],
      "mark": {"type": "line", "strokeWidth": 2.8, "clip": true},
      "encoding": {
        "x": {"field": "k", "type": "nominal", "scale": {"type": "point", "domain": ["a1","a2","a3","a4","a5","a6","a7"], "padding": 0},
              "axis": {"grid": true, "gridColor": "#000000", "gridOpacity": 1, "gridWidth": 1, "zindex": 1, "labelAngle": 0, "labelOverlap": false, "labelFlush": false, "labelBound": false,
                       "labelExpr": "['nonce','gas_limit','gas_price','sender','timestamp','heigh','gas_consumed'][indexof(['a1','a2','a3','a4','a5','a6','a7'], datum.value)]"}},
        "y": {"field": "v", "type": "quantitative", "scale": {"domain": [-2.14, 6.68], "nice": false, "zero": false},
              "axis": {"values": [-2, 0, 2, 4, 6], "format": "d", "grid": true, "gridColor": "#b0b0b0", "gridWidth": 0.8}},
        "color": {"field": "c", "type": "nominal", "scale": {"range": ["#008000"]}},
        "detail": {"field": "i", "type": "nominal"}
      }
    },
    {
      "width": 668, "height": 148,
      "transform": [{"filter": "datum.c == 3"}, {"fold": ["a1","a2","a3","a4","a5","a6","a7"], "as": ["k","v"]}],
      "mark": {"type": "line", "strokeWidth": 2.8, "clip": true},
      "encoding": {
        "x": {"field": "k", "type": "nominal", "scale": {"type": "point", "domain": ["a1","a2","a3","a4","a5","a6","a7"], "padding": 0},
              "axis": {"grid": true, "gridColor": "#000000", "gridOpacity": 1, "gridWidth": 1, "zindex": 1, "labelAngle": 0, "labelOverlap": false, "labelFlush": false, "labelBound": false,
                       "labelExpr": "['nonce','gas_limit','gas_price','sender','timestamp','heigh','gas_consumed'][indexof(['a1','a2','a3','a4','a5','a6','a7'], datum.value)]"}},
        "y": {"field": "v", "type": "quantitative", "scale": {"domain": [-1.45, 1.87], "nice": false, "zero": false},
              "axis": {"values": [-1, 0, 1], "format": "d", "grid": true, "gridColor": "#b0b0b0", "gridWidth": 0.8}},
        "color": {"field": "c", "type": "nominal", "scale": {"range": ["#a52a2a"]}},
        "detail": {"field": "i", "type": "nominal"}
      }
    },
    {
      "width": 668, "height": 148,
      "transform": [{"filter": "datum.c == 4"}, {"fold": ["a1","a2","a3","a4","a5","a6","a7"], "as": ["k","v"]}],
      "mark": {"type": "line", "strokeWidth": 2.6, "clip": true},
      "encoding": {
        "x": {"field": "k", "type": "nominal", "scale": {"type": "point", "domain": ["a1","a2","a3","a4","a5","a6","a7"], "padding": 0},
              "axis": {"grid": true, "gridColor": "#000000", "gridOpacity": 1, "gridWidth": 1, "zindex": 1, "labelAngle": 0, "labelOverlap": false, "labelFlush": false, "labelBound": false,
                       "labelExpr": "['nonce','gas_limit','gas_price','sender','timestamp','heigh','gas_consumed'][indexof(['a1','a2','a3','a4','a5','a6','a7'], datum.value)]"}},
        "y": {"field": "v", "type": "quantitative", "scale": {"domain": [-2.41, 14.04], "nice": false, "zero": false},
              "axis": {"values": [0, 5, 10], "format": "d", "grid": true, "gridColor": "#b0b0b0", "gridWidth": 0.8}},
        "color": {"field": "c", "type": "nominal", "scale": {"range": ["#800080"]}},
        "detail": {"field": "i", "type": "nominal"}
      }
    },
    {
      "width": 668, "height": 148,
      "transform": [{"filter": "datum.c == 5"}, {"fold": ["a1","a2","a3","a4","a5","a6","a7"], "as": ["k","v"]}],
      "mark": {"type": "line", "strokeWidth": 2.8, "clip": true},
      "encoding": {
        "x": {"field": "k", "type": "nominal", "scale": {"type": "point", "domain": ["a1","a2","a3","a4","a5","a6","a7"], "padding": 0},
              "axis": {"grid": true, "gridColor": "#000000", "gridOpacity": 1, "gridWidth": 1, "zindex": 1, "labelAngle": 0, "labelOverlap": false, "labelFlush": false, "labelBound": false,
                       "labelExpr": "['nonce','gas_limit','gas_price','sender','timestamp','heigh','gas_consumed'][indexof(['a1','a2','a3','a4','a5','a6','a7'], datum.value)]"}},
        "y": {"field": "v", "type": "quantitative", "scale": {"domain": [-0.235, 1.84], "nice": false, "zero": false},
              "axis": {"values": [0, 0.5, 1, 1.5], "format": ".1f", "grid": true, "gridColor": "#b0b0b0", "gridWidth": 0.8}},
        "color": {"field": "c", "type": "nominal", "scale": {"range": ["#ff0000"]}},
        "detail": {"field": "i", "type": "nominal"}
      }
    }
  ],
  "resolve": {"scale": {"y": "independent", "color": "independent"}, "legend": {"color": "independent"}}
}
